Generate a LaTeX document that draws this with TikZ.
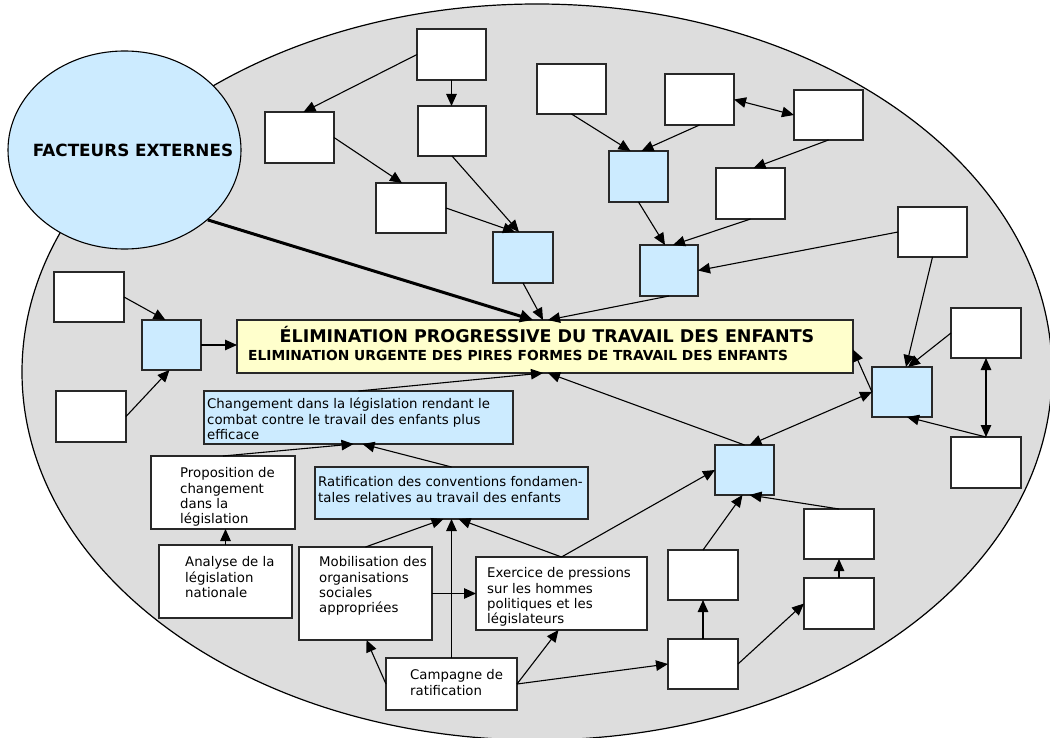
\documentclass[tikz,border=0pt]{standalone}
\usepackage{fontspec}
\setmainfont{DejaVu Sans}
\usetikzlibrary{arrows.meta,fit,calc,shapes.geometric}
\definecolor{bggray}{RGB}{221,221,221}
\definecolor{lblue}{RGB}{204,235,255}
\definecolor{lyellow}{RGB}{255,255,204}
\definecolor{edge}{RGB}{40,40,40}
\begin{document}
\begin{tikzpicture}[x=1pt,y=-1pt,
  boxbase/.style={draw=edge, line width=1.2pt, inner sep=0pt, outer sep=0pt},
  wbox/.style={boxbase, fill=white},
  bbox/.style={boxbase, fill=lblue},
  ybox/.style={boxbase, fill=lyellow},
  conn/.style={line width=1.1pt, -{Triangle[length=12pt,width=10.5pt]}},
  dconn/.style={line width=1.1pt, {Triangle[length=12pt,width=10.5pt]}-{Triangle[length=12pt,width=10.5pt]}},
  txt/.style={font=\fontsize{13.3}{15.3}\selectfont, align=left, inner sep=0pt, anchor=north west},
]
\useasboundingbox (0,0) rectangle (1050,738);
% background ellipse
\draw[fill=bggray, line width=1.2pt] (537,372) ellipse [x radius=515pt, y radius=368pt];

% external factors
\node[ellipse, draw=black, line width=1.1pt, fill=lblue, minimum width=233pt, minimum height=198pt, inner sep=0pt] (F) at (124.5,150) {};
\node[font=\bfseries\fontsize{16.8}{20}\selectfont, inner sep=0pt] (Ft) at (133,150) {FACTEURS EXTERNES};

% central box
\node[ybox, fit={(237,320)(853,373)}] (Y) {};
\node[font=\bfseries\fontsize{17.5}{20}\selectfont, inner sep=0pt] (Y1) at (547,335) {ÉLIMINATION PROGRESSIVE DU TRAVAIL DES ENFANTS};
\node[font=\bfseries\fontsize{13.8}{16}\selectfont, inner sep=0pt, anchor=west] (Y2) at (248,355) {ELIMINATION URGENTE DES PIRES FORMES DE TRAVAIL DES ENFANTS};

% left cluster
\node[wbox, fit={(54,272)(124,322)}] (A1) {};
\node[wbox, fit={(56,391)(126,442)}] (A2) {};
\node[bbox, fit={(142,320)(201,370)}] (B1) {};

% top-left cluster
\node[wbox, fit={(417,29)(486,80)}] (T1) {};
\node[wbox, fit={(265,112)(334,163)}] (T2) {};
\node[wbox, fit={(418,106)(486,156)}] (T3) {};
\node[wbox, fit={(376,183)(446,233)}] (T4) {};
\node[bbox, fit={(493,232)(553,283)}] (T5) {};

% top-middle cluster
\node[wbox, fit={(537,64)(606,114)}] (M1) {};
\node[wbox, fit={(665,74)(734,125)}] (M2) {};
\node[wbox, fit={(794,90)(863,140)}] (M3) {};
\node[bbox, fit={(609,151)(668,202)}] (M4) {};
\node[wbox, fit={(716,168)(785,219)}] (M5) {};
\node[bbox, fit={(640,245)(698,296)}] (M6) {};
\node[wbox, fit={(898,207)(967,257)}] (M7) {};

% right cluster
\node[wbox, fit={(951,308)(1021,358)}] (R2) {};
\node[bbox, fit={(872,367)(932,417)}] (R1) {};
\node[wbox, fit={(951,437)(1021,488)}] (R3) {};
\node[bbox, fit={(715,445)(774,495)}] (R4) {};
\node[wbox, fit={(804,509)(874,559)}] (R5) {};
\node[wbox, fit={(804,578)(874,629)}] (R6) {};
\node[wbox, fit={(668,550)(738,600)}] (R7) {};
\node[wbox, fit={(668,639)(738,689)}] (R8) {};

% text boxes
\node[bbox, fit={(204,391)(513,444)}] (C1) {};
\node[txt] (C1t) at (207,397.8) {\strut Changement dans la législation rendant le\\combat contre le travail des enfants plus\\efficace};
\node[wbox, fit={(151,456)(295,529)}] (P) {};
\node[txt] (Pt) at (180,466.8) {\strut Proposition de\\changement\\dans la\\législation};
\node[bbox, fit={(315,467)(588,519)}] (Rt) {};
\node[txt] (Rtt) at (318,475.8) {\strut Ratification des conventions fondamen-\\tales relatives au travail des enfants};
\node[wbox, fit={(159,545)(292,618)}] (An) {};
\node[txt] (Ant) at (185,555.8) {\strut Analyse de la\\législation\\nationale};
\node[wbox, fit={(299,547)(432,640)}] (Mo) {};
\node[txt] (Mot) at (319,555.8) {\strut Mobilisation des\\organisations\\sociales\\appropriées};
\node[wbox, fit={(476,557)(647,630)}] (Ex) {};
\node[txt] (Ext) at (487,566.8) {\strut Exercice de pressions\\sur les hommes\\politiques et les\\législateurs};
\node[wbox, fit={(386,658)(517,710)}] (Ca) {};
\node[txt] (Cat) at (410,668.8) {\strut Campagne de\\ratification};

% thick connector
\draw[line width=3pt, -{Triangle[length=13pt,width=12pt]}] (F.-40) -- ([xshift=-12pt]Y.north);

% connectors top-left
\draw[conn] (T1.west) -- ([xshift=4pt]T2.north);
\draw[conn] (T1.south) -- (T1.south |- T3.north);
\draw[conn] (T2.east) -- ([xshift=-9pt]T4.north);
\draw[conn] (T3.south) -- ([xshift=-4pt]T5.north);
\draw[conn] (T4.east) -- ([xshift=-8pt]T5.north);
\draw[conn] (T5.south) -- ([xshift=-2pt]Y.north);

% connectors top-middle
\draw[conn] (M1.south) -- ([xshift=-8pt]M4.north);
\draw[conn] (M2.south) -- ([xshift=3pt]M4.north);
\draw[dconn] (M2.east) -- (M3.west);
\draw[conn] (M3.south) -- ([xshift=3pt]M5.north);
\draw[conn] (M4.south) -- ([xshift=-4pt]M6.north);
\draw[conn] (M5.south) -- ([xshift=4pt]M6.north);
\draw[conn] (M7.west) -- (M6.east);
\draw[conn] (M6.south) -- ([xshift=3pt]Y.north);

% connectors right
\draw[conn] (M7.south) -- ([xshift=4pt]R1.north);
\draw[conn] (R2.west) -- ([xshift=6pt]R1.north);
\draw[dconn] (R2.south) -- (R3.north);
\draw[conn] (R3.north) -- ([xshift=5pt]R1.south);
\draw[conn] (R1.west) -- ([yshift=-3pt]Y.east);
\draw[dconn] ([xshift=5pt]R4.north) -- (R1.west);
\draw[conn] (R4.north) -- ([xshift=3pt]Y.south);
\draw[conn] (R7.north) -- ([xshift=-2pt]R4.south);
\draw[conn] (R5.north) -- ([xshift=5pt]R4.south);
\draw[conn] (R6.north) -- (R5.south);
\draw[conn] (R8.north) -- (R7.south);
\draw[conn] (R8.east) -- (R6.west);

% connectors bottom
\draw[conn] (C1.north) -- ([xshift=-2pt]Y.south);
\draw[conn] (Ex.north) -- (R4.west);
\draw[conn] (Ex.north) -- ([xshift=7pt]Rt.south);
\draw[conn] (Ca.east) -- (R8.west);
\draw[conn] (Ca.east) -- ([xshift=-3pt]Ex.south);
\draw[conn] (Ca.west) -- ([xshift=1pt]Mo.south);
\draw[conn] (Ca.north) -- (Ca.north |- Rt.south);
\draw[conn] (Mo.north) -- ([xshift=-8pt]Rt.south);
\draw[conn] (Mo.east) -- (Ex.west |- Mo.east);
\draw[conn] (An.north) -- (An.north |- P.south);
\draw[conn] (P.north) -- ([xshift=-5pt]C1.south);
\draw[conn] (Rt.north) -- ([xshift=4pt]C1.south);

% connectors left
\draw[conn] (A1.east) -- ([xshift=-6pt]B1.north);
\draw[conn] (A2.east) -- ([xshift=-2pt]B1.south);
\draw[conn] (B1.east) -- (Y.west |- B1.east);
\end{tikzpicture}
\end{document}
